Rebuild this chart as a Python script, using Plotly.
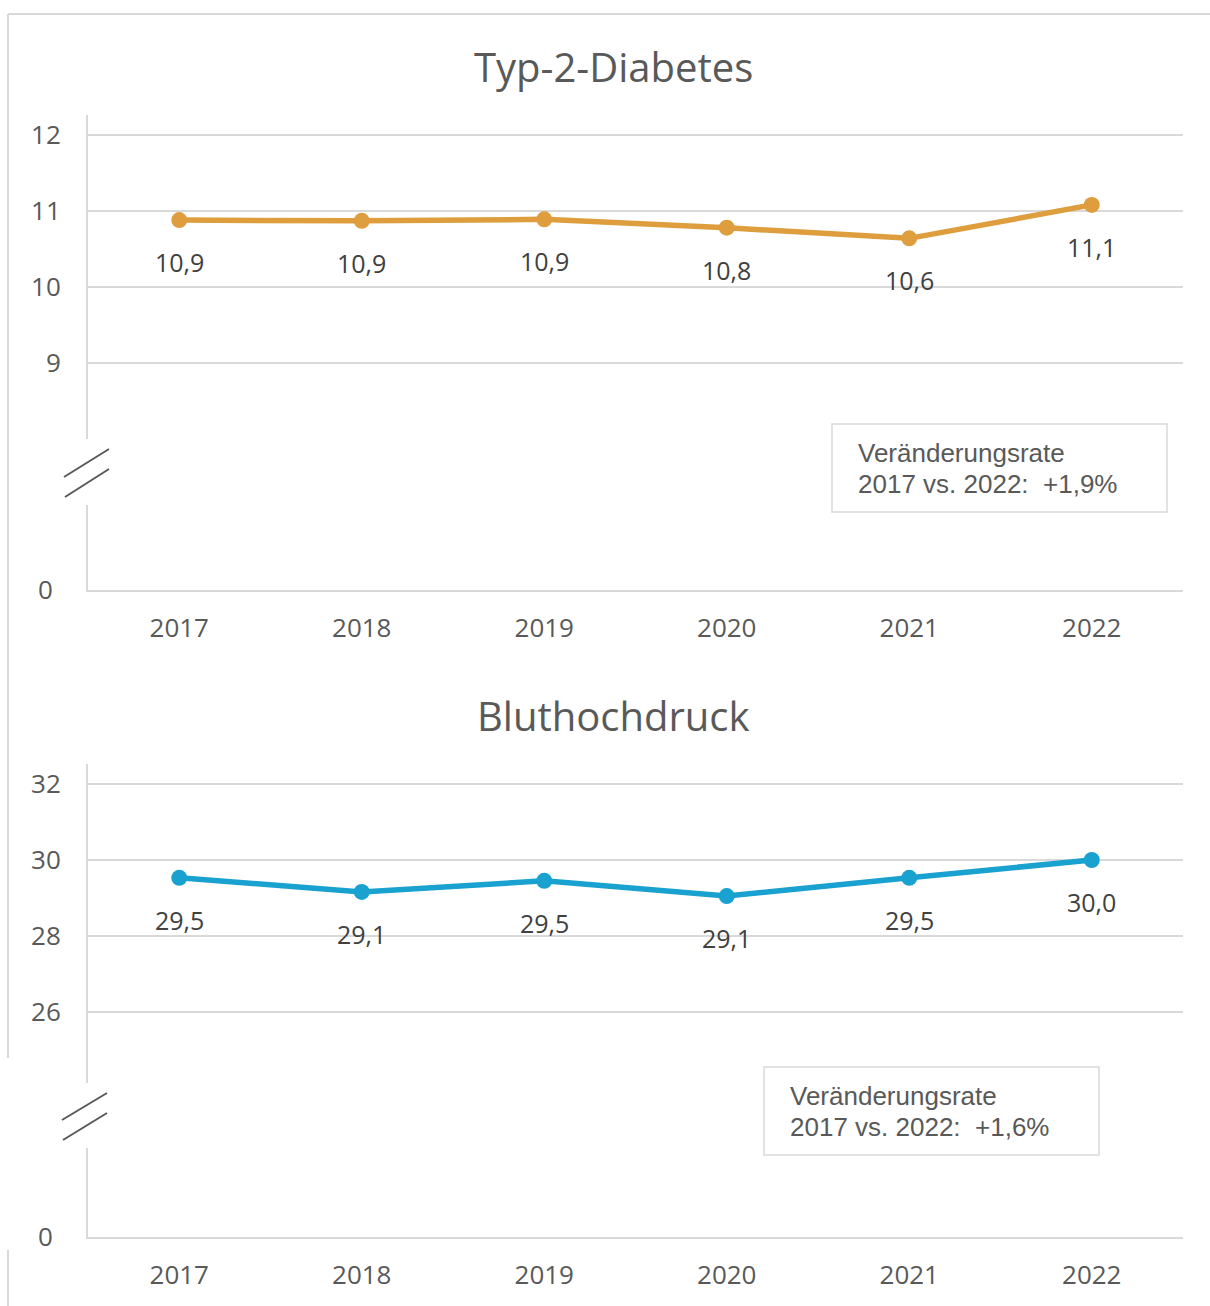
import plotly.graph_objects as go

W, H = 1210, 1306

years = ["2017", "2018", "2019", "2020", "2021", "2022"]
diabetes = [10.88, 10.87, 10.89, 10.78, 10.64, 11.08]
diabetes_labels = ["10,9", "10,9", "10,9", "10,8", "10,6", "11,1"]
bluthochdruck = [29.53, 29.16, 29.45, 29.05, 29.53, 30.0]
bluthochdruck_labels = ["29,5", "29,1", "29,5", "29,1", "29,5", "30,0"]

titles = ["Typ-2-Diabetes", "Bluthochdruck"]
rate_line1 = "Veränderungsrate"
rate_line2 = ["2017 vs. 2022:  +1,9%", "2017 vs. 2022:  +1,6%"]

ORANGE = "#DF9E3D"
BLUE = "#19A1D0"
GRID = "#D9D9D9"
AXTXT = "#595959"
LBLTXT = "#404040"
FONT = "Open Sans"


def px(x):
    return x / W


def py(y):
    return 1 - y / H


fig = go.Figure()

fig.add_trace(go.Scatter(x=years, y=diabetes, mode="lines+markers",
                         line=dict(color=ORANGE, width=5.5),
                         marker=dict(size=16, color=ORANGE),
                         xaxis="x", yaxis="y", hoverinfo="skip", showlegend=False))
fig.add_trace(go.Scatter(x=years, y=[None] * 6, mode="markers",
                         xaxis="x", yaxis="y2", hoverinfo="skip", showlegend=False))
fig.add_trace(go.Scatter(x=years, y=bluthochdruck, mode="lines+markers",
                         line=dict(color=BLUE, width=5.5),
                         marker=dict(size=16, color=BLUE),
                         xaxis="x2", yaxis="y3", hoverinfo="skip", showlegend=False))
fig.add_trace(go.Scatter(x=years, y=[None] * 6, mode="markers",
                         xaxis="x2", yaxis="y4", hoverinfo="skip", showlegend=False))

xdom = [px(88), px(1183)]
tickfont = dict(family=FONT, size=26, color=AXTXT)

common_x = dict(type="category", range=[-0.5, 5.5], showgrid=False, zeroline=False,
                showline=True, linecolor=GRID, linewidth=2, ticks="", automargin=False,
                tickfont=tickfont, ticklabelstandoff=14, domain=xdom, fixedrange=True)

upper_y = dict(showgrid=True, gridcolor=GRID, gridwidth=2, zeroline=False,
               showline=True, linecolor=GRID, linewidth=2, ticks="", automargin=False,
               tickfont=tickfont, ticklabelstandoff=20, fixedrange=True)

lower_y = dict(range=[0, 1], tickvals=[0], ticktext=["0"], showgrid=False, zeroline=False,
               showline=True, linecolor=GRID, linewidth=2, ticks="", automargin=False,
               tickfont=tickfont, ticklabelstandoff=28, fixedrange=True)

fig.update_layout(
    width=W, height=H, autosize=False,
    margin=dict(l=0, r=0, t=0, b=0, pad=0),
    paper_bgcolor="white", plot_bgcolor="white",
    showlegend=False,
    xaxis=dict(**common_x, anchor="y2"),
    xaxis2=dict(**common_x, anchor="y4"),
    yaxis=dict(**upper_y, range=[8.0, 12.263], tickvals=[9, 10, 11, 12],
               domain=[py(439), py(115)], anchor="x"),
    yaxis2=dict(**lower_y, domain=[py(590), py(505)], anchor="x"),
    yaxis3=dict(**upper_y, range=[24.13, 32.526], tickvals=[26, 28, 30, 32],
                domain=[py(1083), py(764)], anchor="x2"),
    yaxis4=dict(**lower_y, domain=[py(1237), py(1148)], anchor="x2"),
)

annotations = []
lblfont = dict(family=FONT, size=25, color=LBLTXT)
for i, (yv, t) in enumerate(zip(diabetes, diabetes_labels)):
    annotations.append(dict(x=i, y=yv, xref="x", yref="y", text=t, showarrow=False,
                            yshift=-42, font=lblfont))
for i, (yv, t) in enumerate(zip(bluthochdruck, bluthochdruck_labels)):
    annotations.append(dict(x=i, y=yv, xref="x2", yref="y3", text=t, showarrow=False,
                            yshift=-42, font=lblfont))

for t, yy in zip(titles, [66, 715]):
    annotations.append(dict(x=px(613), y=py(yy), xref="paper", yref="paper", text=t,
                            showarrow=False, xanchor="center", yanchor="middle",
                            font=dict(family=FONT, size=40, color=AXTXT)))

boxes = [(832, 424, 1167, 512), (764, 1067, 1099, 1155)]
shapes = []
boxfont = dict(family="Liberation Sans", size=26, color=AXTXT)
for (x0, y0, x1, y1), t2 in zip(boxes, rate_line2):
    shapes.append(dict(type="rect", xref="paper", yref="paper",
                       x0=px(x0), x1=px(x1), y0=py(y1), y1=py(y0),
                       line=dict(color=GRID, width=1.5), fillcolor="white", layer="below"))
    annotations.append(dict(x=px(x0 + 24), y=py(y0 + 29), xref="paper", yref="paper",
                            text=rate_line1, showarrow=False, xanchor="left",
                            yanchor="middle", font=boxfont))
    annotations.append(dict(x=px(x0 + 24), y=py(y0 + 60), xref="paper", yref="paper",
                            text=t2, showarrow=False, xanchor="left",
                            yanchor="middle", font=boxfont))

breaks = [
    [(64, 477, 109, 449), (65, 497, 109, 469)],
    [(62, 1120, 107, 1093), (63, 1140, 107, 1113)],
]
for pair in breaks:
    for (x0, y0, x1, y1) in pair:
        shapes.append(dict(type="line", xref="paper", yref="paper",
                           x0=px(x0), y0=py(y0), x1=px(x1), y1=py(y1),
                           line=dict(color=AXTXT, width=2)))

shapes.append(dict(type="line", xref="paper", yref="paper", x0=px(8), x1=1,
                   y0=py(14), y1=py(14), line=dict(color=GRID, width=2)))
shapes.append(dict(type="line", xref="paper", yref="paper", x0=px(8), x1=px(8),
                   y0=py(14), y1=py(1058), line=dict(color=GRID, width=2)))
shapes.append(dict(type="line", xref="paper", yref="paper", x0=px(8), x1=px(8),
                   y0=py(1250), y1=0, line=dict(color=GRID, width=2)))

fig.update_layout(annotations=annotations, shapes=shapes)

fig.write_html("out.html", config={"displayModeBar": False, "responsive": False},
               post_script="document.body.style.margin='0';document.body.style.overflow='hidden';")
